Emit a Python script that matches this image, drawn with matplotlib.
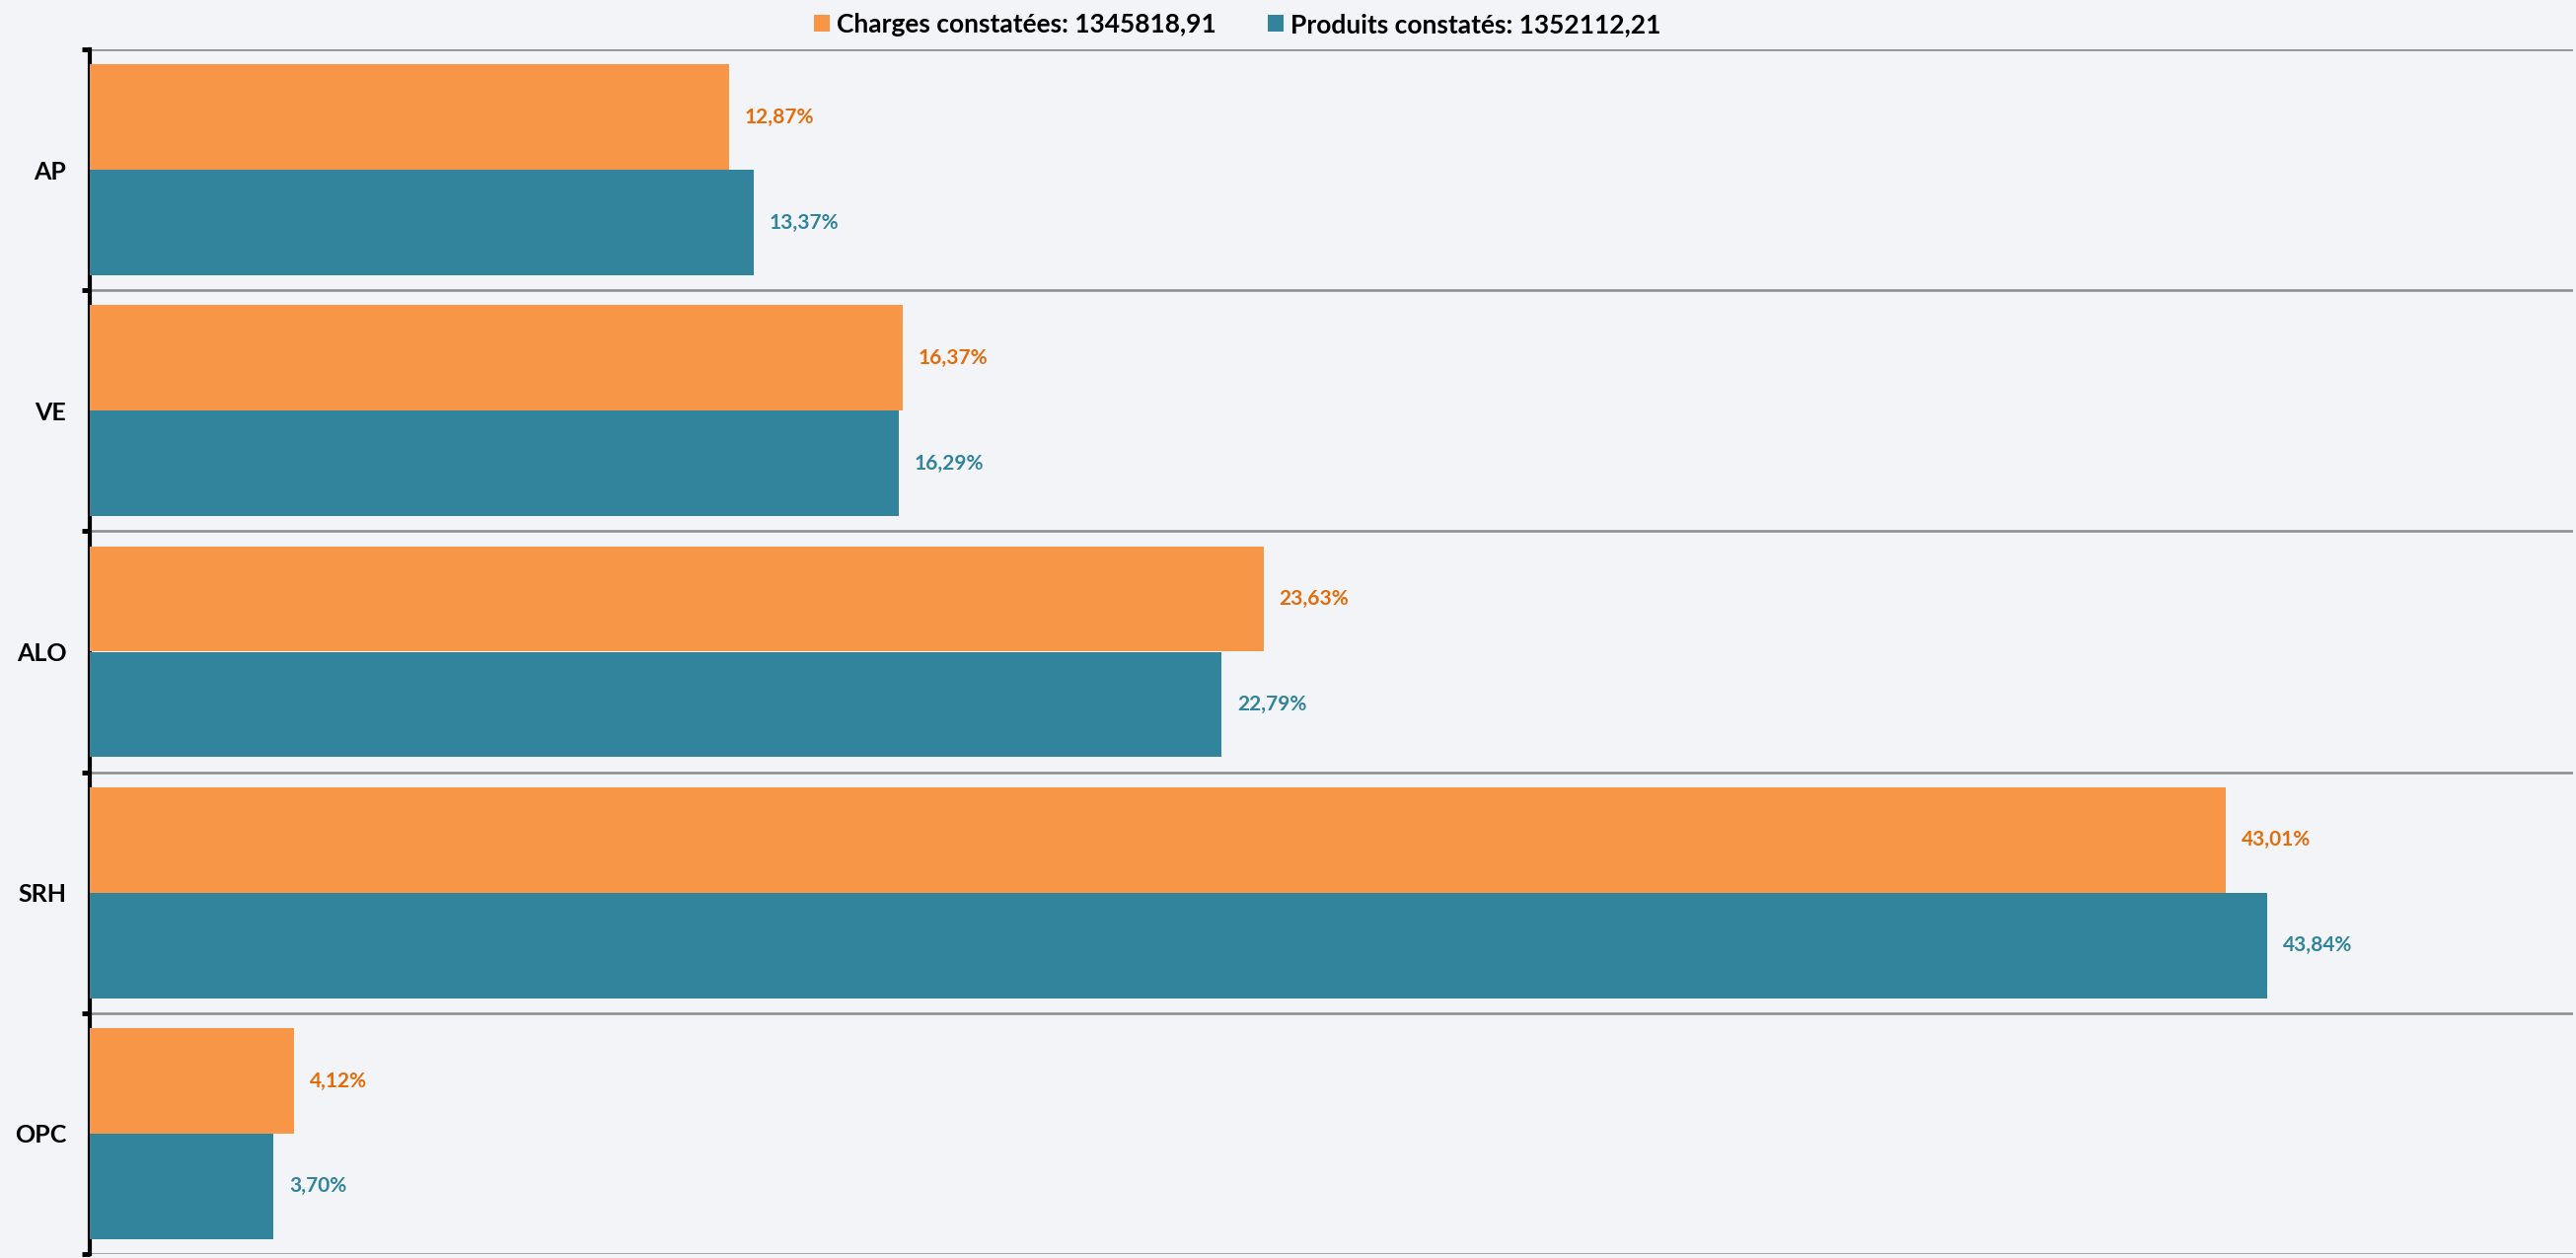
import matplotlib
matplotlib.use("Agg")
import matplotlib.pyplot as plt
import numpy as np

# data
categories = ["AP", "VE", "ALO", "SRH", "OPC"]
charges    = [12.87, 16.37, 23.63, 43.01, 4.12]
produits   = [13.37, 16.29, 22.79, 43.84, 3.70]
label_charges  = "Charges constatées: 1345818,91"
label_produits = "Produits constatés: 1352112,21"

# style
BG        = "#F3F4F8"
ORANGE    = "#F79646"
TEAL      = "#31849B"
ORANGE_TX = "#E46C0A"
TEAL_TX   = "#31849B"
GRID      = "#8C8C8C"

plt.rcParams["font.family"] = ["Lato", "DejaVu Sans"]

fig = plt.figure(figsize=(26.11, 12.75), dpi=100, facecolor=BG)
ax = fig.add_axes([91 / 2611, 4 / 1275, 2517 / 2611, 1221 / 1275], facecolor=BG)

y = np.arange(len(categories))
h = 0.4375

b1 = ax.barh(y - h / 2, charges, height=h, color=ORANGE, label=label_charges, zorder=3)
b2 = ax.barh(y + h / 2, produits, height=h, color=TEAL, label=label_produits, zorder=3)

for bars, vals, col in [(b1, charges, ORANGE_TX), (b2, produits, TEAL_TX)]:
    for bar, v in zip(bars, vals):
        ax.annotate(f"{v:.2f}%".replace(".", ","),
                    xy=(v, bar.get_y() + bar.get_height() / 2),
                    xytext=(11.5, 0), textcoords="offset points",
                    ha="left", va="center", fontsize=15, fontweight="bold", color=col)

ax.set_xlim(0, 50)
ax.set_ylim(len(categories) - 0.5, -0.5)

# group separators
bounds = np.arange(len(categories) + 1) - 0.5
for b in bounds:
    ax.axhline(b, color=GRID, linewidth=1.8, zorder=1)

ax.set_yticks(y)
ax.set_yticklabels(categories, fontsize=18, fontweight="bold")
ax.set_yticks(bounds, minor=True)
ax.tick_params(axis="y", which="major", length=0, pad=17)
ax.tick_params(axis="y", which="minor", length=6, width=3.5, color="black")
ax.set_xticks([])

for s in ["top", "right", "bottom"]:
    ax.spines[s].set_visible(False)
ax.spines["left"].set_linewidth(3)
ax.spines["left"].set_color("black")

leg = ax.legend(loc="center", bbox_to_anchor=(1163 / 2517, 1 + 25 / 1221), ncol=2,
                frameon=False, handlelength=0.6, handleheight=0.6, handletextpad=0.25,
                columnspacing=2.0, borderaxespad=0, prop={"size": 19, "weight": "bold"})

fig.savefig("out.png", dpi=100, facecolor=BG)
